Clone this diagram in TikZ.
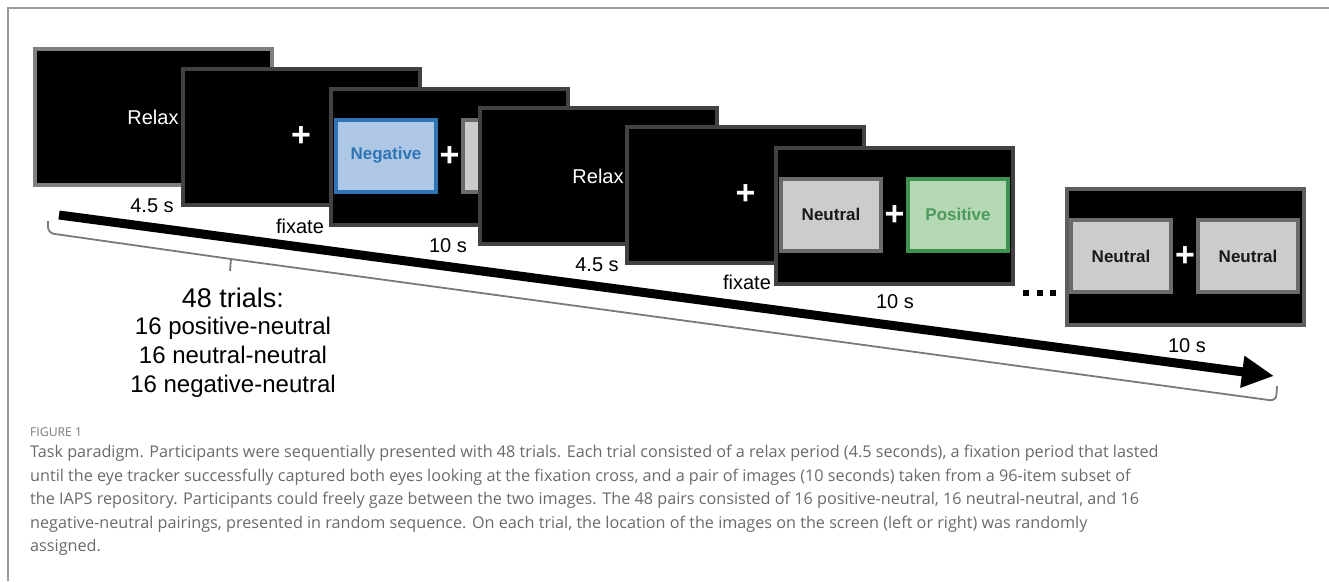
\documentclass[tikz,border=0pt]{standalone}
\usepackage{fontspec}
\setmainfont{Liberation Sans}
\newfontfamily\capfont{Open Sans}
\usetikzlibrary{arrows.meta,calc}

\definecolor{framegray}{HTML}{9A9A9A}
\definecolor{lightedge}{HTML}{808080}
\definecolor{darkedge}{HTML}{424242}
\definecolor{neutraledge}{HTML}{6F6A6A}
\definecolor{neutralfill}{HTML}{CCCCCC}
\definecolor{negedge}{HTML}{2F75B5}
\definecolor{negfill}{HTML}{ADC7E5}
\definecolor{posedge}{HTML}{3F9150}
\definecolor{posfill}{HTML}{B4D7B4}
\definecolor{postext}{HTML}{4D9A5D}
\definecolor{captext}{HTML}{6A6A6A}
\definecolor{bracegray}{HTML}{7A7A7A}

\tikzset{
  screen/.style={draw=darkedge, fill=black, line width=4pt, inner sep=0pt,
    minimum width=237pt, minimum height=136pt},
  imgbox/.style={line width=4pt, inner sep=0pt, minimum width=100pt,
    minimum height=72pt, font=\fontsize{17}{19}\selectfont\bfseries},
  neutralbox/.style={imgbox, draw=neutraledge, fill=neutralfill, text=black!90},
  negbox/.style={imgbox, draw=negedge, fill=negfill, text=negedge},
  posbox/.style={imgbox, draw=posedge, fill=posfill, text=postext},
  screentext/.style={text=white, inner sep=0pt, font=\fontsize{20}{22}\selectfont},
  crosshair/.style={text=white, inner sep=0pt, font=\fontsize{34}{34}\selectfont\bfseries},
  timelabel/.style={anchor=base, inner sep=0pt, font=\fontsize{20}{22}\selectfont},
  countline/.style={anchor=base, inner sep=0pt, font=\fontsize{24}{26}\selectfont},
  capline/.style={anchor=west, inner sep=0pt, text=captext,
    font=\capfont\fontsize{16.2}{18}\selectfont},
  dotmark/.style={fill=black, inner sep=0pt, minimum size=6pt},
}

\begin{document}
\begin{tikzpicture}[x=1pt, y=-1pt]
\useasboundingbox (0,0) rectangle (1329,581);

% outer frame: top and left rules
\draw[framegray, line width=2pt] (8,581) -- (8,7.5) -- (1329,7.5);

% timeline arrow
\coordinate (tstart) at (59,215);
\coordinate (tend) at (1274,376);
\draw[line width=9pt, -{Triangle[length=32pt,width=30pt]}] (tstart) -- (tend);

% brace under the timeline
\coordinate (bl) at (48,221);
\coordinate (bm) at (231,259);
\coordinate (btip) at (230,271);
\coordinate (br) at (1277,386);
\draw[bracegray, line width=1.8pt, rounded corners=6pt]
  (bl) -- (48,233) -- (bm) -- (1276,401) -- (br);
\draw[bracegray, line width=1.8pt] (bm) -- (btip);

% trial 1: relax
\node[screen, draw=lightedge] (s1) at (153,117) {};
\node[screentext] (relax1) at (s1) {Relax};
\node[timelabel] (t1) at (152,212) {4.5 s};

% trial 1: fixate
\node[screen] (s2) at (301,137) {};
\node[crosshair] (c2) at (s2) {+};
\node[timelabel] (t2) at (300,233) {fixate};

% trial 1: image pair
\node[screen] (s3) at (449.5,157) {};
\node[negbox] (neg3) at ($(s3)+(-63.5,-1.5)$) {Negative};
\node[neutralbox] (neu3) at ($(s3)+(63.5,-1.5)$) {};
\node[crosshair] (c3) at (s3) {+};
\node[timelabel] (t3) at (448,252) {10 s};

% trial 2: relax
\node[screen] (s4) at (598,176) {};
\node[screentext] (relax4) at (s4) {Relax};
\node[timelabel] (t4) at (597,271) {4.5 s};

% trial 2: fixate
\node[screen] (s5) at (745.5,194.5) {};
\node[crosshair] (c5) at (s5) {+};
\node[timelabel] (t5) at (747,289) {fixate};

% trial 2: image pair
\node[screen] (s6) at (894.5,216) {};
\node[neutralbox] (neu6) at ($(s6)+(-63.5,-1.5)$) {Neutral};
\node[posbox] (pos6) at ($(s6)+(63.5,-1.5)$) {Positive};
\node[crosshair] (c6) at (s6) {+};
\node[timelabel] (t6) at (895,308) {10 s};

% ellipsis
\node[dotmark] (d1) at (1026,292.5) {};
\node[dotmark] (d2) at (1039.5,292.5) {};
\node[dotmark] (d3) at (1053,292.5) {};

% last trial: image pair
\node[screen, draw=darkedge!85!white] (s7) at (1185,257) {};
\node[neutralbox] (neu7a) at ($(s7)+(-64,-1)$) {Neutral};
\node[neutralbox] (neu7b) at ($(s7)+(63,-1)$) {Neutral};
\node[crosshair] (c7) at (s7) {+};
\node[timelabel] (t7) at (1187,352) {10 s};

% trial counts
\node[anchor=base, inner sep=0pt, font=\fontsize{27}{29}\selectfont] (n48) at (233,307) {48 trials:};
\node[countline] (npos) at (233,334) {16 positive-neutral};
\node[countline] (nneu) at (233,363) {16 neutral-neutral};
\node[countline] (nneg) at (233,392) {16 negative-neutral};

% caption
\node[capline, font=\capfont\fontsize{12.2}{14}\selectfont, text=captext!90!white] (fig) at (30,432) {FIGURE 1};
\node[capline] (cap1) at (30,453) {Task paradigm. Participants were sequentially presented with 48 trials. Each trial consisted of a relax period (4.5 seconds), a fixation period that lasted};
\node[capline] (cap2) at (30,477) {until the eye tracker successfully captured both eyes looking at the fixation cross, and a pair of images (10 seconds) taken from a 96-item subset of};
\node[capline] (cap3) at (30,500) {the IAPS repository. Participants could freely gaze between the two images. The 48 pairs consisted of 16 positive-neutral, 16 neutral-neutral, and 16};
\node[capline] (cap4) at (30,524) {negative-neutral pairings, presented in random sequence. On each trial, the location of the images on the screen (left or right) was randomly};
\node[capline] (cap5) at (30,547) {assigned.};
\end{tikzpicture}
\end{document}
